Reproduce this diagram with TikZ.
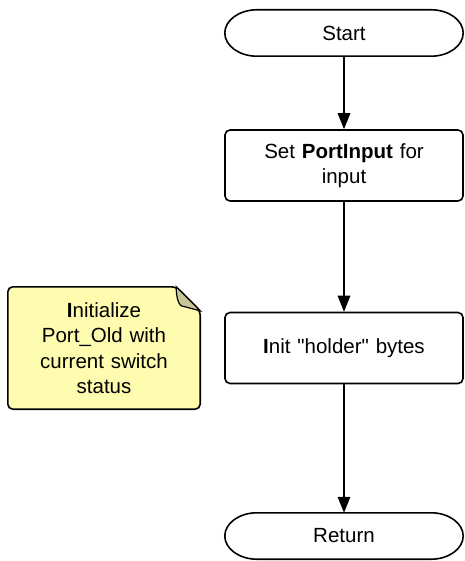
\documentclass[tikz,border=0pt]{standalone}
\usepackage{fontspec}
\setmainfont{Liberation Sans}[Ligatures=TeXOff]
\usetikzlibrary{arrows.meta}
\definecolor{notefill}{RGB}{255,252,176}
\definecolor{notefold}{RGB}{200,198,150}
\tikzset{
  chartfont/.style={font=\fontsize{20.5}{25.5}\selectfont},
  terminal/.style={rectangle, minimum width=238pt, minimum height=46pt, chartfont},
  process/.style={rectangle, rounded corners=5pt, draw=black, fill=white, line width=1.6pt, minimum width=238pt, minimum height=71pt, text width=215pt, align=center, chartfont},
  notetext/.style={rectangle, minimum width=192pt, minimum height=122pt, text width=180pt, align=center, chartfont},
  flow/.style={line width=1.6pt, -{Triangle[length=16pt, width=12.5pt]}}
}
% outline of a start/stop node: flat top and bottom, half-ellipse ends
\newcommand{\terminaloutline}[1]{%
  \draw [line width=1.6pt]
    ([xshift=32pt]#1.north west) -- ([xshift=-32pt]#1.north east)
    .. controls ([xshift=-14.4pt]#1.north east) and ([yshift=12.7pt]#1.east) .. (#1.east)
    .. controls ([yshift=-12.7pt]#1.east) and ([xshift=-14.4pt]#1.south east) .. ([xshift=-32pt]#1.south east)
    -- ([xshift=32pt]#1.south west)
    .. controls ([xshift=14.4pt]#1.south west) and ([yshift=-12.7pt]#1.west) .. (#1.west)
    .. controls ([yshift=12.7pt]#1.west) and ([xshift=14.4pt]#1.north west) .. cycle;}
\begin{document}
\begin{tikzpicture}[x=1pt, y=-1pt]
    \useasboundingbox (0, 0) rectangle (464, 561);

    \node (start)[terminal] at (344, 33) {Start};
    \node (setin)[process] at (344, 165.5) {Set \textbf{PortInput} for\\input};
    \node (init)[process] at (344, 348) {\textbf{I}nit "holder" bytes};
    \node (ret)[terminal] at (344, 536) {Return};
    \terminaloutline{start}
    \terminaloutline{ret}

    % sticky note beside the flow
    \node (note)[notetext] at (104, 348) {};
    \draw [fill=notefill, line width=1.6pt, rounded corners=5pt]
        (note.north west) -- ([xshift=-24pt]note.north east) -- ([yshift=-24pt]note.north east)
        -- (note.south east) -- (note.south west) -- cycle;
    \draw [fill=notefold, line width=1.2pt]
        ([xshift=-24pt]note.north east)
        .. controls ([xshift=-24pt, yshift=-10pt]note.north east) and ([xshift=-22pt, yshift=-17pt]note.north east) .. ([xshift=-19pt, yshift=-19pt]note.north east)
        -- ([yshift=-24pt]note.north east) -- cycle;
    \node (notelabel)[notetext] at (note.center) {\textbf{I}nitialize\\Port\_Old with\\current switch\\status};

    \draw [flow] (start) -- (setin);
    \draw [flow] (setin) -- (init);
    \draw [flow] (init) -- (ret);
\end{tikzpicture}
\end{document}
